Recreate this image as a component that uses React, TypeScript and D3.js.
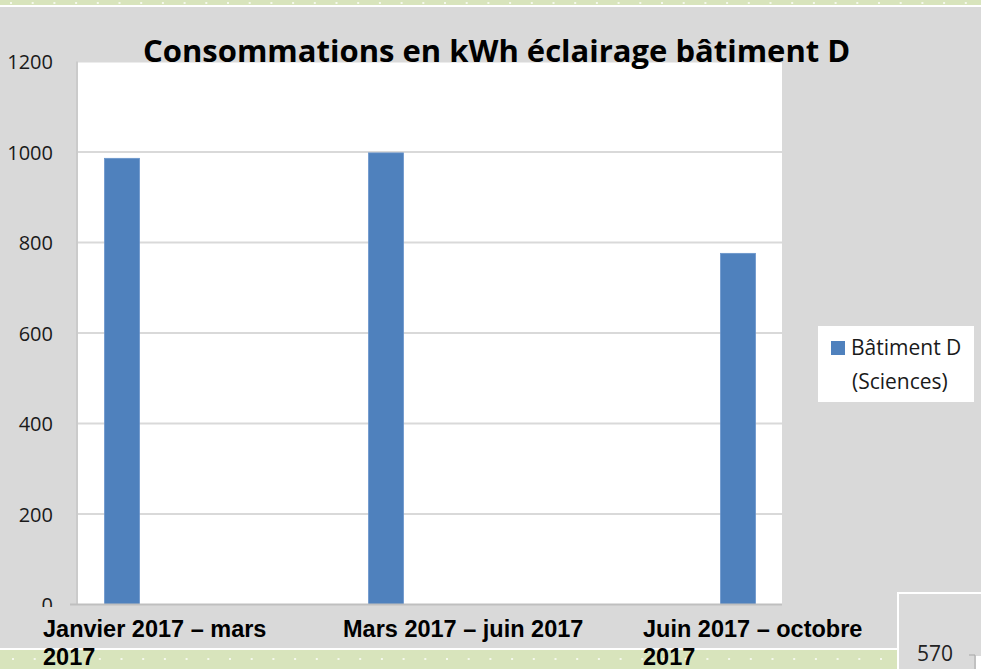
import React, { useRef, useEffect } from "react";
import { select, scaleLinear, scalePoint, range } from "d3";

// data
const categories = [
  "Janvier 2017 – mars 2017",
  "Mars 2017 – juin 2017",
  "Juin 2017 – octobre 2017",
];
const periodEndMonth = [3, 6, 10]; // bars sit on the month each period ends
const consumption = [986, 998, 776];
const yTicks = [0, 200, 400, 600, 800, 1000, 1200];
const legendLines = ["Bâtiment D", "(Sciences)"];
const title = "Consommations en kWh éclairage bâtiment D";
const pageNumber = "570";

const W = 981;
const H = 669;
const GREY = "#d9d9d9";
const GREEN = "#d8e4bc";
const BLUE = "#4f81bd";

function wrap(textSel, width, lineHeight) {
  textSel.each(function () {
    const text = select(this);
    const words = text.text().split(/\s+/);
    const x = text.attr("x");
    const y = text.attr("y");
    text.text(null);
    let line = [];
    let lineNo = 0;
    let tspan = text.append("tspan").attr("x", x).attr("y", y);
    words.forEach((word) => {
      line.push(word);
      tspan.text(line.join(" "));
      if (tspan.node().getComputedTextLength() > width && line.length > 1) {
        line.pop();
        tspan.text(line.join(" "));
        line = [word];
        lineNo += 1;
        tspan = text
          .append("tspan")
          .attr("x", x)
          .attr("y", +y + lineNo * lineHeight)
          .text(word);
      }
    });
  });
}

function App() {
  const svgRef = useRef(null);

  useEffect(() => {
    const svg = select(svgRef.current);
    svg.selectAll("*").remove();

    const plot = { left: 78, right: 782, top: 61.5, bottom: 604.5 };

    const xScale = scaleLinear().domain([2.5, 10.5]).range([plot.left, plot.right]);
    const yScale = scaleLinear().domain([0, 1200]).range([plot.bottom, plot.top]);
    const labelScale = scalePoint().domain(categories).range([43, 643]);
    const barWidth = 35;

    // page background
    svg.append("rect").attr("width", W).attr("height", H).attr("fill", GREY);

    // green page strips with dots
    svg.append("rect").attr("width", W).attr("height", 5).attr("fill", GREEN);
    svg.append("rect").attr("y", 5).attr("width", W).attr("height", 2).attr("fill", "#fff");
    svg
      .selectAll(".dot-top")
      .data(range(10, W, 21.7))
      .join("rect")
      .attr("x", (d) => d)
      .attr("y", 2)
      .attr("width", 2)
      .attr("height", 2)
      .attr("fill", "#f4f8ec");

    // plot area
    svg
      .append("rect")
      .attr("x", plot.left)
      .attr("y", plot.top)
      .attr("width", plot.right - plot.left)
      .attr("height", plot.bottom - plot.top)
      .attr("fill", "#fff");

    // grid
    svg
      .selectAll(".grid")
      .data(yTicks.filter((d) => d > 0))
      .join("line")
      .attr("x1", 70)
      .attr("x2", plot.right)
      .attr("y1", (d) => yScale(d))
      .attr("y2", (d) => yScale(d))
      .attr("stroke", GREY)
      .attr("stroke-width", 2);

    svg
      .append("line")
      .attr("x1", 77)
      .attr("x2", 77)
      .attr("y1", plot.top)
      .attr("y2", plot.bottom)
      .attr("stroke", "#c6c6c6")
      .attr("stroke-width", 1.5);

    // bars
    svg
      .selectAll(".bar")
      .data(consumption)
      .join("rect")
      .attr("class", "bar")
      .attr("x", (v, i) => xScale(periodEndMonth[i]) - barWidth / 2)
      .attr("y", (v) => yScale(v))
      .attr("width", barWidth)
      .attr("height", (v) => yScale(0) - yScale(v))
      .attr("fill", BLUE)
      .attr("stroke", "#6a95cb")
      .attr("stroke-width", 0.8);

    // y labels
    svg
      .selectAll(".ylab")
      .data(yTicks)
      .join("text")
      .attr("x", 53)
      .attr("y", (d) => yScale(d))
      .attr("text-anchor", "end")
      .attr("dominant-baseline", "central")
      .attr("font-family", "'Open Sans', sans-serif")
      .attr("font-size", 20)
      .attr("fill", "#1a1a1a")
      .text((d) => d);

    // category text boxes cover the lower half of "0"
    svg.append("rect").attr("y", 607).attr("width", 898).attr("height", 41).attr("fill", GREY);

    // x axis line
    svg
      .append("line")
      .attr("x1", 70)
      .attr("x2", plot.right)
      .attr("y1", plot.bottom)
      .attr("y2", plot.bottom)
      .attr("stroke", "#bfbfbf")
      .attr("stroke-width", 2);

    // bottom green strip
    svg.append("rect").attr("y", 648).attr("width", 898).attr("height", 2).attr("fill", "#fff");
    svg.append("rect").attr("y", 650).attr("width", 898).attr("height", 19).attr("fill", GREEN);
    svg
      .selectAll(".dot-bottom")
      .data(range(12, 890, 21.7))
      .join("rect")
      .attr("x", (d) => d)
      .attr("y", 658)
      .attr("width", 2)
      .attr("height", 2)
      .attr("fill", "#f4f8ec");

    // page number box
    svg.append("rect").attr("x", 898).attr("y", 593).attr("width", 83).attr("height", 76).attr("fill", "#dadada");
    svg.append("line").attr("x1", 897).attr("x2", W).attr("y1", 593).attr("y2", 593).attr("stroke", "#fff").attr("stroke-width", 2);
    svg.append("line").attr("x1", 898).attr("x2", 898).attr("y1", 593).attr("y2", H).attr("stroke", "#fff").attr("stroke-width", 2);
    svg
      .append("text")
      .attr("x", 917)
      .attr("y", 661)
      .attr("font-family", "'Open Sans', sans-serif")
      .attr("font-size", 21)
      .attr("fill", "#222")
      .text(pageNumber);
    svg.append("line").attr("x1", 969).attr("x2", 975).attr("y1", 655).attr("y2", 655).attr("stroke", "#a6a6a6");
    svg.append("line").attr("x1", 975).attr("x2", 975).attr("y1", 655).attr("y2", H).attr("stroke", "#a6a6a6");
    svg.append("rect").attr("x", 976).attr("y", 656).attr("width", 5).attr("height", 13).attr("fill", "#fff");

    // category labels (hand-placed text boxes in the original)
    svg
      .selectAll(".xlab")
      .data(categories)
      .join("text")
      .attr("class", "xlab")
      .attr("x", (d) => labelScale(d))
      .attr("y", 637)
      .attr("font-family", "'Liberation Sans', Arial, sans-serif")
      .attr("font-weight", "bold")
      .attr("font-size", 23.5)
      .attr("fill", "#000")
      .text((d) => d)
      .call(wrap, 250, 28);

    // title
    svg
      .append("text")
      .attr("x", 143)
      .attr("y", 62)
      .attr("font-family", "'Open Sans', sans-serif")
      .attr("font-weight", "bold")
      .attr("font-size", 31)
      .attr("fill", "#000")
      .text(title);

    // legend
    const legend = svg.append("g");
    legend.append("rect").attr("x", 818).attr("y", 326).attr("width", 156).attr("height", 76).attr("fill", "#fff");
    legend.append("rect").attr("x", 831).attr("y", 341).attr("width", 14).attr("height", 14).attr("fill", BLUE);
    legend
      .selectAll("text")
      .data(legendLines)
      .join("text")
      .attr("x", (d, i) => (i === 0 ? 851 : 852))
      .attr("y", (d, i) => 355 + i * 34)
      .attr("font-family", "'Open Sans', sans-serif")
      .attr("font-size", 21)
      .attr("fill", "#1a1a1a")
      .text((d) => d);
  }, []);

  return (
    <svg
      ref={svgRef}
      width={W}
      height={H}
      style={{ position: "absolute", left: 0, top: 0, display: "block" }}
    />
  );
}

export default App;
